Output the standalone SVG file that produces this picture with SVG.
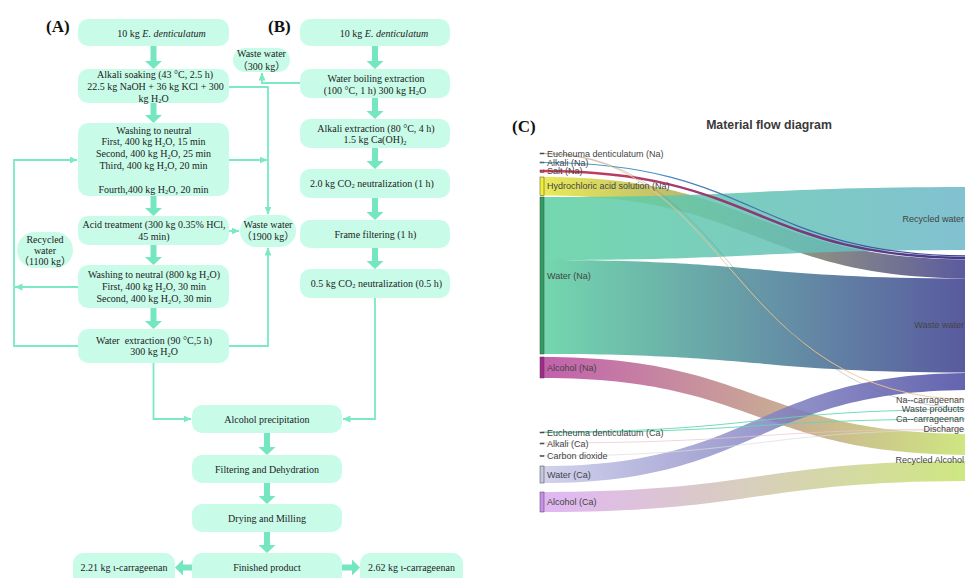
<svg xmlns="http://www.w3.org/2000/svg" width="965" height="578" viewBox="0 0 965 578">
<style>
.box{fill:#c8fce9}
.t{font-family:"Liberation Serif","Times New Roman",serif;font-size:10px;fill:#222;text-anchor:middle}
.cj{font-family:"Liberation Serif","Noto Sans CJK SC",serif}
.sub{font-size:6.5px}
.conn{fill:none;stroke:#7ae9c4;stroke-width:1.8}
.ba{fill:#74e7c0}
.lbl{font-family:"Liberation Serif","Times New Roman",serif;font-size:17px;font-weight:bold;fill:#111}
.sk{font-family:"Liberation Sans",Arial,sans-serif;font-size:9px;fill:#444}
.ske{font-family:"Liberation Sans",Arial,sans-serif;font-size:9px;fill:#444;text-anchor:end}
.node{stroke:#444;stroke-width:0.5}
.band{opacity:0.85}
.thin{fill:none}
</style>
<defs>
<marker id="ah" markerUnits="userSpaceOnUse" markerWidth="8" markerHeight="7" refX="7.5" refY="3.5" orient="auto">
<path d="M0,0 L8,3.5 L0,7 z" fill="#7ae9c4"/>
</marker>
<linearGradient id="gWR" gradientUnits="userSpaceOnUse" x1="543" y1="0" x2="972" y2="0"><stop offset="0" stop-color="#5bd0a0"/><stop offset="1" stop-color="#6cb6c9"/></linearGradient>
<linearGradient id="gWW" gradientUnits="userSpaceOnUse" x1="543" y1="0" x2="972" y2="0"><stop offset="0" stop-color="#5bd0a0"/><stop offset="1" stop-color="#3b3b8e"/></linearGradient>
<linearGradient id="gHW" gradientUnits="userSpaceOnUse" x1="543" y1="0" x2="972" y2="0"><stop offset="0" stop-color="#e6e63a"/><stop offset="1" stop-color="#3b3b8e"/></linearGradient>
<linearGradient id="gAR" gradientUnits="userSpaceOnUse" x1="543" y1="0" x2="972" y2="0"><stop offset="0" stop-color="#b8449e"/><stop offset="1" stop-color="#c6e46a"/></linearGradient>
<linearGradient id="gCW" gradientUnits="userSpaceOnUse" x1="543" y1="0" x2="972" y2="0"><stop offset="0" stop-color="#cacaea"/><stop offset="1" stop-color="#4646a0"/></linearGradient>
<linearGradient id="gCR" gradientUnits="userSpaceOnUse" x1="543" y1="0" x2="972" y2="0"><stop offset="0" stop-color="#dcaaf2"/><stop offset="1" stop-color="#c6e46a"/></linearGradient>
<linearGradient id="gAl" gradientUnits="userSpaceOnUse" x1="543" y1="0" x2="972" y2="0"><stop offset="0" stop-color="#4aa8d8"/><stop offset="1" stop-color="#3b3b8e"/></linearGradient>
<linearGradient id="gSa" gradientUnits="userSpaceOnUse" x1="543" y1="0" x2="972" y2="0"><stop offset="0" stop-color="#d63a5c"/><stop offset="1" stop-color="#3b3b8e"/></linearGradient>
</defs>
<rect width="965" height="578" fill="#ffffff"/>

<text class="lbl" x="46" y="32">(A)</text>
<text class="lbl" x="268" y="32">(B)</text>
<text class="lbl" x="512" y="132">(C)</text>

<g id="connectors">
<path class="conn" d="M78,346 H14 V160 H77" marker-end="url(#ah)"/>
<path class="conn" d="M78,287 H15" marker-end="url(#ah)"/>
<path class="conn" d="M229,87 H268 V214" marker-end="url(#ah)"/>
<path class="conn" d="M229,160 H267" marker-end="url(#ah)"/>
<path class="conn" d="M229,231 H239" marker-end="url(#ah)"/>
<path class="conn" d="M229,346 H268 V248" marker-end="url(#ah)"/>
<path class="conn" d="M300,83 H262 V73" marker-end="url(#ah)"/>
<path class="conn" d="M153.5,363 V419 H191" marker-end="url(#ah)"/>
<path class="conn" d="M375,298 V419 H343" marker-end="url(#ah)"/>
<polygon class="ba" points="150.5,46 156.5,46 156.5,61 162,61 153.5,69 145,61 150.5,61"/>
<polygon class="ba" points="150.5,103 156.5,103 156.5,115 162,115 153.5,123 145,115 150.5,115"/>
<polygon class="ba" points="150.5,196 156.5,196 156.5,208 162,208 153.5,216 145,208 150.5,208"/>
<polygon class="ba" points="150.5,245 156.5,245 156.5,257 162,257 153.5,265 145,257 150.5,257"/>
<polygon class="ba" points="150.5,308 156.5,308 156.5,321 162,321 153.5,329 145,321 150.5,321"/>
<polygon class="ba" points="372,46 378,46 378,61 383.5,61 375,69 366.5,61 372,61"/>
<polygon class="ba" points="372,98 378,98 378,111 383.5,111 375,119 366.5,111 372,111"/>
<polygon class="ba" points="372,148 378,148 378,161 383.5,161 375,169 366.5,161 372,161"/>
<polygon class="ba" points="372,198 378,198 378,212 383.5,212 375,220 366.5,212 372,212"/>
<polygon class="ba" points="372,248 378,248 378,261 383.5,261 375,269 366.5,261 372,261"/>
<polygon class="ba" points="264,433 270,433 270,447 275.5,447 267,455 258.5,447 264,447"/>
<polygon class="ba" points="264,483 270,483 270,496 275.5,496 267,504 258.5,496 264,496"/>
<polygon class="ba" points="264,532 270,532 270,545 275.5,545 267,553 258.5,545 264,545"/>
<polygon class="ba" points="192,564.5 183,564.5 183,559.5 175,567.5 183,575.5 183,570.5 192,570.5"/>
<polygon class="ba" points="342,564.5 352,564.5 352,559.5 360,567.5 352,575.5 352,570.5 342,570.5"/>
</g>

<g id="a1"><rect class="box" x="78" y="19" width="151" height="27" rx="10"/>
<text class="t" x="161.5" y="36.5">10 kg <tspan font-style="italic">E. denticulatum</tspan></text></g>
<g id="a2"><rect class="box" x="78" y="69" width="151" height="34" rx="10"/>
<text class="t" x="155" y="78">Alkali soaking (43 °C, 2.5 h)</text>
<text class="t" x="155.5" y="90.2">22.5 kg NaOH + 36 kg KCl + 300</text>
<text class="t" x="153.5" y="101.8">kg H<tspan class="sub" dy="1.5">2</tspan><tspan dy="-1.5">O</tspan></text></g>
<g id="a3"><rect class="box" x="78" y="123" width="151" height="73" rx="10"/>
<text class="t" x="154" y="133.5">Washing to neutral</text>
<text class="t" x="153.5" y="145.3">First, 400 kg H<tspan class="sub" dy="1.5">2</tspan><tspan dy="-1.5">O, 15 min</tspan></text>
<text class="t" x="153.5" y="157.2">Second, 400 kg H<tspan class="sub" dy="1.5">2</tspan><tspan dy="-1.5">O, 25 min</tspan></text>
<text class="t" x="153.5" y="169">Third, 400 kg H<tspan class="sub" dy="1.5">2</tspan><tspan dy="-1.5">O, 20 min</tspan></text>
<text class="t" x="153.5" y="192.5">Fourth,400 kg H<tspan class="sub" dy="1.5">2</tspan><tspan dy="-1.5">O, 20 min</tspan></text></g>
<g id="a4"><rect class="box" x="78" y="216" width="151" height="29" rx="10"/>
<text class="t" x="154" y="227.8">Acid treatment (300 kg 0.35% HCl,</text>
<text class="t" x="154" y="239.5">45 min)</text></g>
<g id="a5"><rect class="box" x="78" y="265" width="151" height="43" rx="10"/>
<text class="t" x="154" y="278.3">Washing to neutral (800 kg H<tspan class="sub" dy="1.5">2</tspan><tspan dy="-1.5">O)</tspan></text>
<text class="t" x="154" y="290.3">First, 400 kg H<tspan class="sub" dy="1.5">2</tspan><tspan dy="-1.5">O, 30 min</tspan></text>
<text class="t" x="154" y="302">Second, 400 kg H<tspan class="sub" dy="1.5">2</tspan><tspan dy="-1.5">O, 30 min</tspan></text></g>
<g id="a6"><rect class="box" x="78" y="329" width="151" height="34" rx="10"/>
<text class="t" x="154" y="343.5" xml:space="preserve">Water  extraction (90 °C,5 h)</text>
<text class="t" x="154" y="355.2">300 kg H<tspan class="sub" dy="1.5">2</tspan><tspan dy="-1.5">O</tspan></text></g>
<g id="recycled"><rect class="box" x="17" y="232" width="56" height="36" rx="18"/>
<text class="t" x="45" y="242.5">Recycled</text>
<text class="t" x="45" y="253.5">water</text>
<text class="t cj" x="45" y="264.5">（1100 kg）</text></g>
<g id="ww1900"><rect class="box" x="240" y="215" width="56" height="32" rx="16"/>
<text class="t" x="268" y="227.5">Waste water</text>
<text class="t cj" x="268" y="239.5">（1900 kg）</text></g>
<g id="ww300"><rect class="box" x="233" y="48" width="57" height="24" rx="12"/>
<text class="t" x="261.5" y="57">Waste water</text>
<text class="t cj" x="261.5" y="69.5">（300 kg）</text></g>

<g id="b1"><rect class="box" x="300" y="19" width="150" height="27" rx="10"/>
<text class="t" x="384" y="36.5">10 kg <tspan font-style="italic">E. denticulatum</tspan></text></g>
<g id="b2"><rect class="box" x="300" y="69" width="150" height="29" rx="10"/>
<text class="t" x="376" y="81.5">Water boiling extraction</text>
<text class="t" x="375" y="93.5">(100 °C, 1 h) 300 kg H<tspan class="sub" dy="1.5">2</tspan><tspan dy="-1.5">O</tspan></text></g>
<g id="b3"><rect class="box" x="300" y="119" width="150" height="29" rx="10"/>
<text class="t" x="376" y="131.5">Alkali extraction (80 °C, 4 h)</text>
<text class="t" x="375" y="143">1.5 kg Ca(OH)<tspan class="sub" dy="1.5">2</tspan></text></g>
<g id="b4"><rect class="box" x="300" y="169" width="150" height="29" rx="10"/>
<text class="t" x="372" y="186.5">2.0 kg CO<tspan class="sub" dy="1.5">2</tspan><tspan dy="-1.5"> neutralization (1 h)</tspan></text></g>
<g id="b5"><rect class="box" x="300" y="220" width="150" height="28" rx="10"/>
<text class="t" x="375.5" y="237.5">Frame filtering (1 h)</text></g>
<g id="b6"><rect class="box" x="300" y="269" width="150" height="29" rx="10"/>
<text class="t" x="376.5" y="286.5">0.5 kg CO<tspan class="sub" dy="1.5">2</tspan><tspan dy="-1.5"> neutralization (0.5 h)</tspan></text></g>

<g id="c1"><rect class="box" x="192" y="405" width="150" height="28" rx="10"/>
<text class="t" x="267" y="422.5">Alcohol precipitation</text></g>
<g id="c2"><rect class="box" x="192" y="455" width="150" height="28" rx="10"/>
<text class="t" x="267" y="472.5">Filtering and Dehydration</text></g>
<g id="c3"><rect class="box" x="192" y="504" width="150" height="28" rx="10"/>
<text class="t" x="267" y="521.5">Drying and Milling</text></g>
<g id="c4"><rect class="box" x="192" y="553" width="150" height="32" rx="10"/>
<text class="t" x="267" y="571">Finished product</text></g>
<g id="p1"><rect class="box" x="73" y="553" width="102" height="32" rx="10"/>
<text class="t" x="124" y="571">2.21 kg ι-carrageenan</text></g>
<g id="p2"><rect class="box" x="360" y="553" width="103" height="32" rx="10"/>
<text class="t" x="411.5" y="571">2.62 kg ι-carrageenan</text></g>

<text x="769" y="128.5" font-family="Liberation Sans, Arial, sans-serif" font-size="12.3" font-weight="bold" fill="#3a3a3a" text-anchor="middle">Material flow diagram</text>

<g id="sankey-links">
<path class="band" fill="url(#gHW)" d="M543,177 C757.5,177 757.5,259.5 972,259.5 L972,278.5 C757.5,278.5 757.5,195.5 543,195.5 Z"/>
<path class="band" fill="url(#gWR)" d="M543,197 C757.5,197 757.5,187 972,187 L972,250 C757.5,250 757.5,260 543,260 Z"/>
<path class="band" fill="url(#gWW)" d="M543,260 C757.5,260 757.5,278.5 972,278.5 L972,372.5 C757.5,372.5 757.5,354 543,354 Z"/>
<path class="band" fill="url(#gAR)" d="M543,357 C757.5,357 757.5,434 972,434 L972,455 C757.5,455 757.5,378 543,378 Z"/>
<path class="band" fill="url(#gCW)" d="M543,466 C757.5,466 757.5,373 972,373 L972,390 C757.5,390 757.5,483 543,483 Z"/>
<path class="band" fill="url(#gCR)" d="M543,492 C757.5,492 757.5,461 972,461 L972,481 C757.5,481 757.5,512 543,512 Z"/>
<path class="thin" stroke="url(#gAl)" stroke-width="1.2" d="M543,162.5 C757.5,162.5 757.5,256 972,256"/>
<path class="thin" stroke="url(#gSa)" stroke-width="2.5" d="M543,171 C757.5,171 757.5,258 972,258"/>
<path class="thin" stroke="#f3c48e" stroke-width="0.9" d="M543,153.5 C730,153.5 730,399.5 972,399.5"/>
<path class="thin" stroke="#6a7a8a" stroke-width="0.6" opacity="0.6" d="M543,153.5 C740,153.5 740,408 972,408"/>
<path class="thin" stroke="#63d6b2" stroke-width="0.9" d="M543,432 C757.5,432 757.5,409.5 972,409.5"/>
<path class="thin" stroke="#63d6b2" stroke-width="0.9" d="M543,432.5 C757.5,432.5 757.5,419 972,419"/>
<path class="thin" stroke="#eac4cc" stroke-width="0.7" d="M543,443 C757.5,443 757.5,429 972,429"/>
<path class="thin" stroke="#dddddd" stroke-width="0.7" d="M543,456 C757.5,456 757.5,430 972,430"/>
</g>

<g id="sankey-nodes">
<rect class="node" x="540" y="153" width="4" height="1" fill="#555"/>
<rect class="node" x="540" y="162" width="4" height="1" fill="#4aa8d8"/>
<rect class="node" x="540" y="170" width="4" height="2.5" fill="#d63a5c"/>
<rect class="node" x="540" y="177" width="4" height="18.5" fill="#f0f030"/>
<rect class="node" x="540" y="197" width="4" height="157" fill="#2f9e64"/>
<rect class="node" x="540" y="357" width="4" height="21" fill="#a3288b"/>
<rect class="node" x="540" y="432" width="4" height="1" fill="#555"/>
<rect class="node" x="540" y="443" width="4" height="1" fill="#555"/>
<rect class="node" x="540" y="455.5" width="4" height="1" fill="#555"/>
<rect class="node" x="540" y="466" width="4" height="17" fill="#c6c6e0"/>
<rect class="node" x="540" y="492" width="4" height="20" fill="#c890e8"/>
</g>

<g id="sankey-labels">
<text class="sk" x="547" y="157">Eucheuma denticulatum (Na)</text>
<text class="sk" x="547" y="165.7">Alkali (Na)</text>
<text class="sk" x="547" y="174.2">Salt (Na)</text>
<text class="sk" x="547" y="189">Hydrochloric acid solution (Na)</text>
<text class="sk" x="547" y="279.2">Water (Na)</text>
<text class="sk" x="547" y="371.2">Alcohol (Na)</text>
<text class="sk" x="547" y="435.7">Eucheuma denticulatum (Ca)</text>
<text class="sk" x="547" y="446.7">Alkali (Ca)</text>
<text class="sk" x="547" y="458.9">Carbon dioxide</text>
<text class="sk" x="547" y="478">Water (Ca)</text>
<text class="sk" x="547" y="505.2">Alcohol (Ca)</text>
<text class="ske" x="964" y="222.2">Recycled water</text>
<text class="ske" x="964" y="328.2">Waste water</text>
<text class="ske" x="964" y="403">Na--carrageenan</text>
<text class="ske" x="964" y="412.2">Waste products</text>
<text class="ske" x="964" y="422.2">Ca--carrageenan</text>
<text class="ske" x="964" y="432.2">Discharge</text>
<text class="ske" x="964" y="463.2">Recycled Alcohol</text>
</g>
</svg>
